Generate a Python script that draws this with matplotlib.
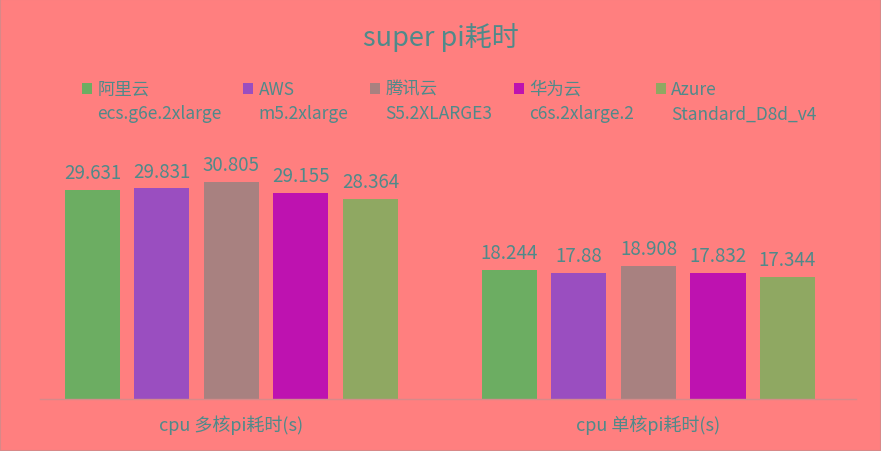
import matplotlib.pyplot as plt
import matplotlib.patches as mpatches
from matplotlib.container import BarContainer
from matplotlib.legend_handler import HandlerPatch, update_from_first_child
import numpy as np

plt.rcParams['font.family'] = ['Noto Sans CJK SC', 'DejaVu Sans']

categories = ['cpu 多核pi耗时(s)', 'cpu 单核pi耗时(s)']
vendors = ['阿里云\necs.g6e.2xlarge', 'AWS\nm5.2xlarge', '腾讯云\nS5.2XLARGE3',
           '华为云\nc6s.2xlarge.2', 'Azure\nStandard_D8d_v4']
multi_core = [29.631, 29.831, 30.805, 29.155, 28.364]
single_core = [18.244, 17.88, 18.908, 17.832, 17.344]
colors = ['#6CAD62', '#9A4EC0', '#A88180', '#BE12B0', '#8FA862']

bg = '#FF7F7F'
txt = '#4F8A8A'

fig = plt.figure(figsize=(8.81, 4.52), dpi=100, facecolor=bg)
ax = fig.add_axes([40/881, 52/452, 816/881, 247/452])
ax.set_facecolor(bg)

x = np.arange(len(categories))
step = 0.1667
width = 0.132
for i in range(len(vendors)):
    vals = [multi_core[i], single_core[i]]
    bars = ax.bar(x + (i - 2) * step, vals, width, color=colors[i], label=vendors[i])
    ax.bar_label(bars, labels=[f'{v:g}' for v in vals], padding=5,
                 fontsize=13.5, color=txt)

ax.set_xlim(-0.459, 1.4976)
ax.set_ylim(0, 35)
ax.set_yticks([])
ax.set_xticks(x, categories)
ax.tick_params(axis='x', length=0, pad=11, labelsize=13, labelcolor=txt)
for s in ['top', 'left', 'right']:
    ax.spines[s].set_visible(False)
ax.spines['bottom'].set_color('#D68A8A')
ax.spines['bottom'].set_linewidth(1)

fig.text(0.5, 1 - 38/452, 'super pi耗时', ha='center', va='center',
         fontsize=19.5, color=txt)


# legend marker sits beside the first line of a two-line label
def square_up(legend, orig_handle, xdescent, ydescent, width, height, fontsize):
    return mpatches.Rectangle((-xdescent, -ydescent + 9.5), width, height)


handles, labels = ax.get_legend_handles_labels()
leg = fig.legend(handles, labels, loc='upper left', bbox_to_anchor=(73/881, 1 - 72/452),
                 ncol=5, frameon=False, fontsize=12.5, labelcolor=txt,
                 handlelength=0.6, handleheight=0.6, handletextpad=0.3,
                 columnspacing=1.23, borderpad=0,
                 handler_map={BarContainer: HandlerPatch(patch_func=square_up,
                                                         update_func=update_from_first_child)})
for t in leg.get_texts():
    t.set_linespacing(1.48)

fig.patches.append(mpatches.Rectangle((0, 0), 1, 1, transform=fig.transFigure,
                                      fill=False, edgecolor='#D88888', linewidth=1.5))

fig.savefig('out.png', dpi=100, facecolor=bg)
